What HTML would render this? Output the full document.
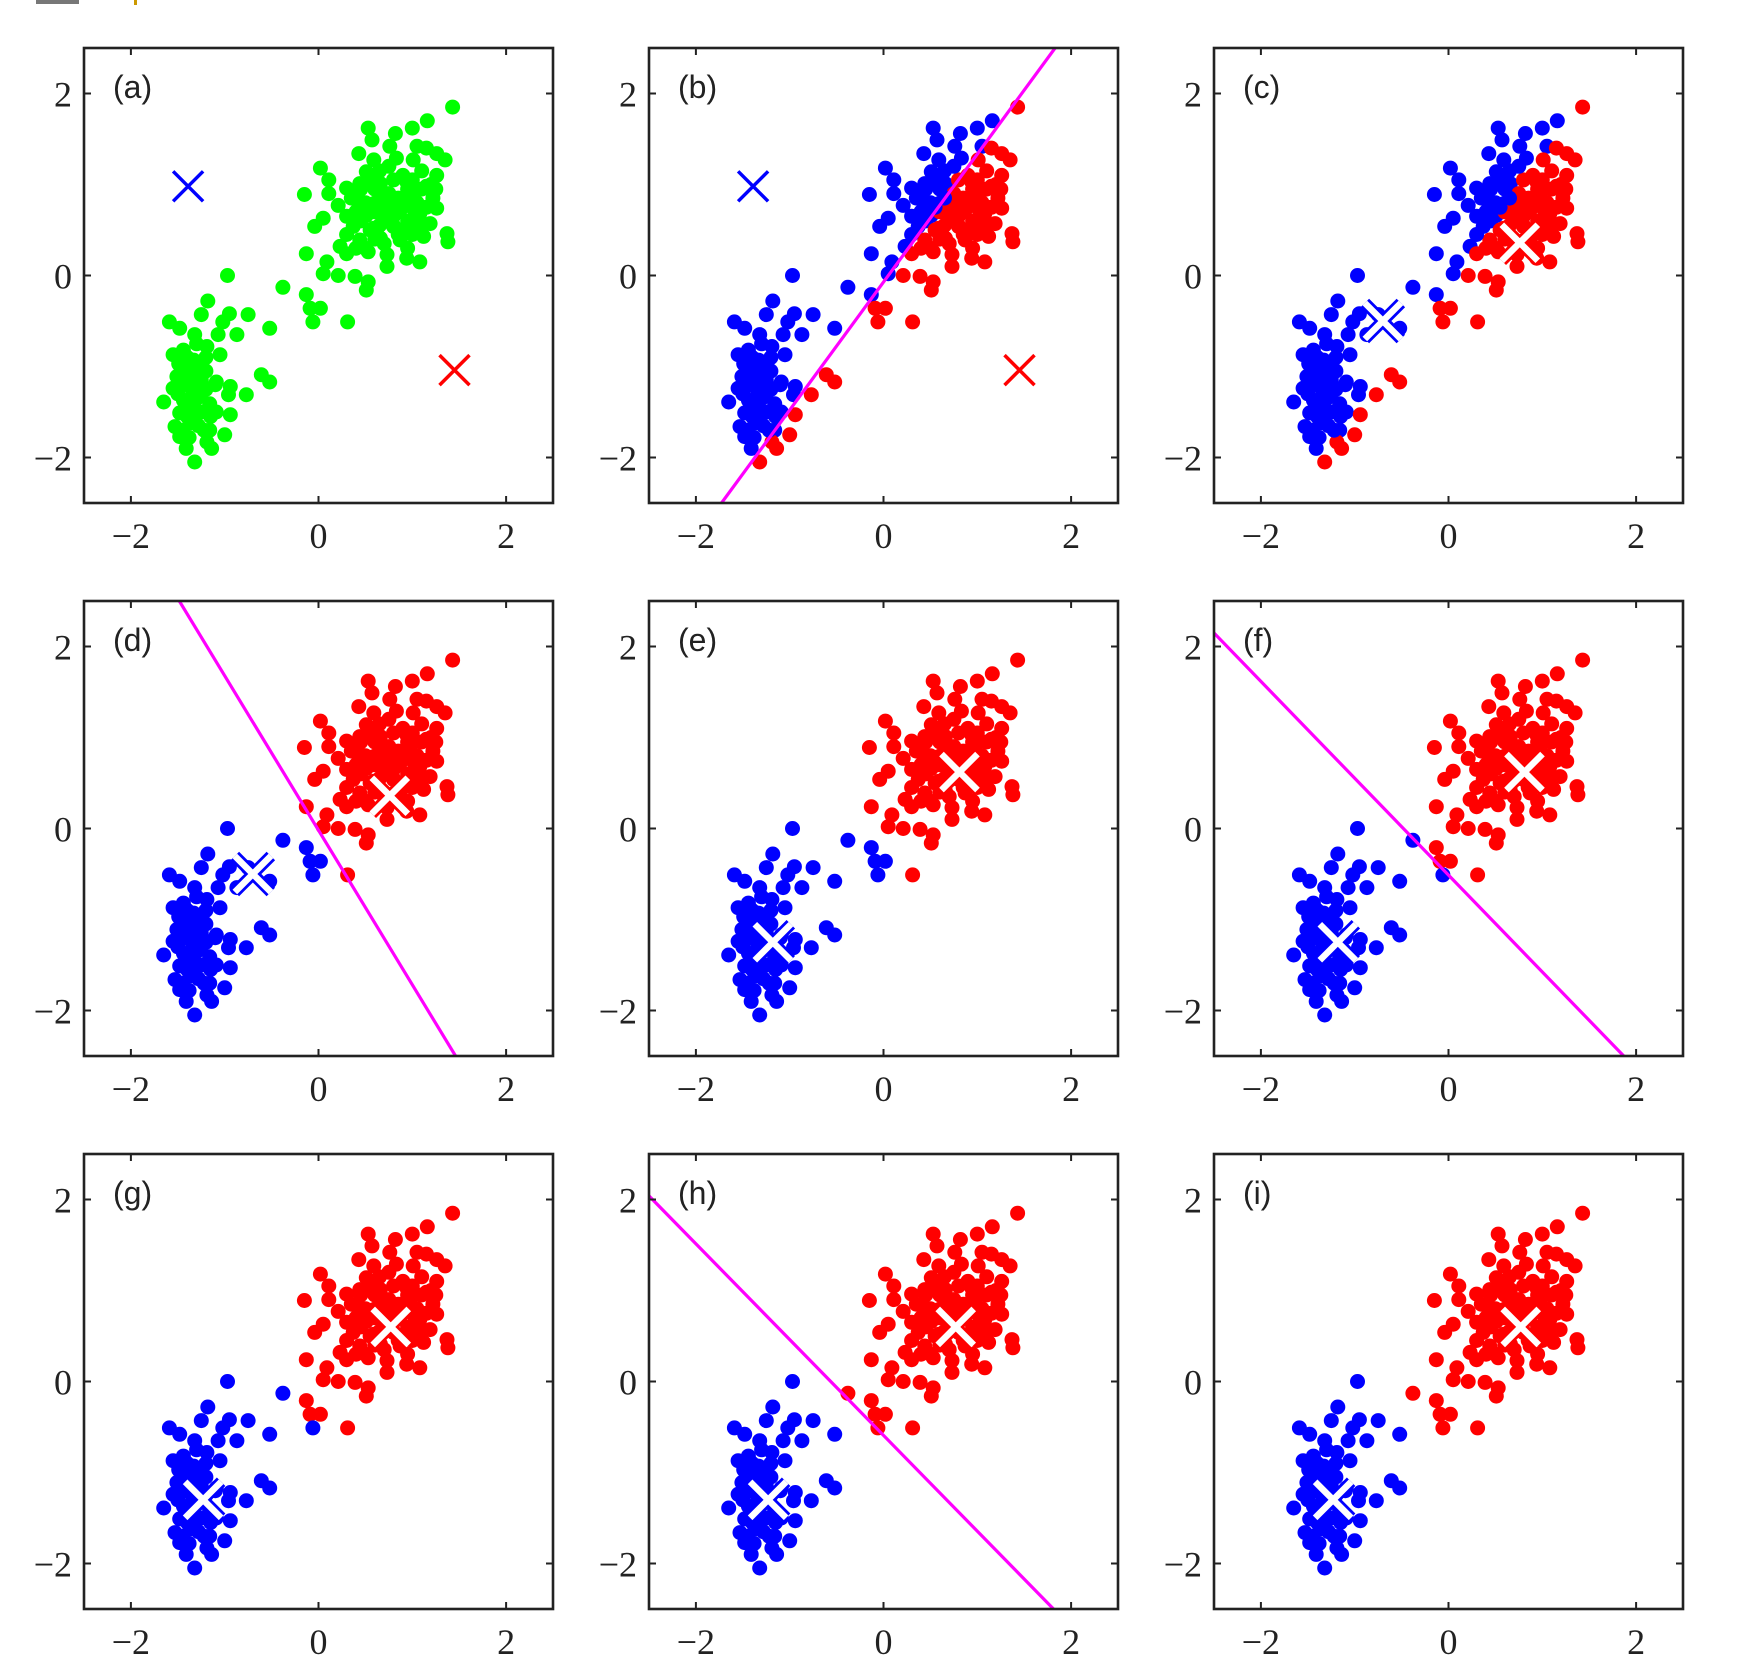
<!DOCTYPE html>
<html><head><meta charset="utf-8">
<style>
html,body{margin:0;padding:0;background:#fff;width:1752px;height:1676px;overflow:hidden;}
svg{display:block;}
</style></head>
<body>
<svg id="fig" width="1752" height="1676" viewBox="0 0 1752 1676" xmlns="http://www.w3.org/2000/svg">
<rect x="36" y="0" width="43" height="4" fill="#777"/>
<rect x="134" y="0" width="3" height="5" fill="#c90"/>
</svg>
<script>
// ---- data (data units) ----
const pointX = [-0.97,-0.38,-0.13,-0.09,0.02,-0.06,0.31,-1.18,-1.25,-0.95,-0.75,-1.59,-1.02,-0.52,-1.48,-1.32,-1.07,-0.87,-1.55,-1.44,-1.19,-1.05,-1.49,-1.33,-1.23,-1.41,-1.51,-1.30,-1.55,-1.37,-1.09,-0.94,-0.61,-0.52,-0.77,-1.65,-1.44,-1.26,-1.16,-0.96,-1.37,-1.48,-1.30,-1.09,-0.94,-1.53,-1.37,-1.16,-1.00,-1.48,-1.41,-1.14,-1.32,-1.19,-1.35,-1.25,-1.40,-1.28,-1.45,-1.20,
1.43,1.16,1.00,0.53,0.82,0.57,0.76,1.05,1.15,0.43,0.59,0.83,1.01,1.26,1.35,0.02,0.51,0.11,1.26,-0.15,0.11,0.30,0.44,0.66,0.94,1.15,0.21,0.41,0.59,0.76,0.98,1.22,1.26,0.05,0.30,0.51,0.69,0.87,1.08,-0.04,0.37,0.59,0.80,1.01,1.19,1.37,1.38,0.23,0.44,0.66,0.87,1.12,-0.13,0.09,0.30,0.53,0.73,0.94,1.08,0.05,0.21,0.39,0.53,0.51,0.73,0.6,0.7,0.8,0.9,1.0,0.75,0.5,0.6,0.95,1.05,0.85,0.7,0.4,1.1,0.9,0.65,
0.45,0.55,0.65,0.75,0.85,0.95,1.05,1.15,0.55,0.7,0.8,0.9,1.0,0.6,0.35,0.45,0.55,0.8,1.0,1.1,1.2,0.3,0.5,0.95,0.85,1.1,0.65,0.75,0.4,1.25,
-1.4,-1.35,-1.45,-1.3,-1.2,-1.4,-1.35,-1.45,-1.25,-1.2,-1.3,-1.15,-1.5,-1.38,-1.22,-1.1];
const pointY = [0.00,-0.13,-0.21,-0.36,-0.36,-0.51,-0.51,-0.28,-0.43,-0.42,-0.43,-0.51,-0.51,-0.58,-0.58,-0.65,-0.65,-0.65,-0.87,-0.82,-0.78,-0.87,-0.97,-0.93,-1.02,-1.08,-1.11,-1.13,-1.24,-1.20,-1.17,-1.22,-1.09,-1.17,-1.31,-1.39,-1.37,-1.33,-1.41,-1.31,-1.44,-1.51,-1.50,-1.50,-1.53,-1.66,-1.62,-1.70,-1.75,-1.77,-1.90,-1.90,-2.05,-1.83,-1.25,-1.15,-1.55,-1.65,-1.00,-0.90,
1.85,1.70,1.62,1.62,1.56,1.49,1.42,1.42,1.40,1.34,1.27,1.29,1.27,1.34,1.27,1.18,1.14,1.05,1.10,0.89,0.90,0.96,1.01,1.01,1.03,0.98,0.77,0.83,0.79,0.83,0.87,0.85,0.74,0.63,0.65,0.66,0.68,0.72,0.68,0.54,0.54,0.52,0.54,0.54,0.57,0.46,0.37,0.32,0.39,0.41,0.39,0.43,0.24,0.15,0.24,0.26,0.23,0.19,0.15,0.02,0.00,-0.01,-0.07,-0.16,0.10,0.7,0.6,0.65,0.8,0.75,0.9,0.8,0.95,0.6,0.8,0.45,0.35,0.7,0.95,1.1,1.15,
0.6,0.5,0.55,0.75,0.85,0.95,0.65,0.75,0.75,0.8,0.55,0.5,0.45,0.4,0.85,0.95,1.05,1.05,1.05,1.15,1.0,0.45,0.3,0.3,0.7,0.55,0.85,1.2,0.3,0.95,
-0.9,-1.05,-1.2,-1.35,-1.25,-1.4,-1.6,-1.7,-1.5,-1.05,-0.75,-1.55,-1.3,-1.78,-1.7,-1.2];
const panelLabels = ["(a)","(b)","(c)","(d)","(e)","(f)","(g)","(h)","(i)"];
// centroids: [blueX, blueY, redX, redY]
const centroidA = [-1.39, 0.98, 1.45, -1.04];
const centroidC = [-0.70, -0.50, 0.76, 0.36];
const centroidE = [-1.18, -1.25, 0.81, 0.62];
const centroidG = [-1.23, -1.30, 0.77, 0.60];
const tickValues = [-2, 0, 2];
const tickLabels = ["\u22122", "0", "2"];

const svg = document.getElementById('fig');
const NS = 'http://www.w3.org/2000/svg';
const colLeft = [84, 649, 1214], rowTop = [48, 601, 1154];
const W = 469, H = 455, XMIN = -2.5, XMAX = 2.5, YMIN = -2.5, YMAX = 2.5;

function mk(tag, attrs, parent){ const e = document.createElementNS(NS, tag); for (const k in attrs) e.setAttribute(k, attrs[k]); parent.appendChild(e); return e; }

// clip infinite line (point + direction) to axes box; returns [t0,t1]
function clipLine(px, py, ux, uy){
  let t0 = -1e9, t1 = 1e9;
  [[ux, px, XMIN, XMAX], [uy, py, YMIN, YMAX]].forEach(([u, p, lo, hi]) => {
    if (Math.abs(u) < 1e-12) return;
    let a = (lo - p) / u, b = (hi - p) / u;
    if (a > b) [a, b] = [b, a];
    t0 = Math.max(t0, a); t1 = Math.min(t1, b);
  });
  return [t0, t1];
}

const panels = [
  {assign:null, draw:centroidA, line:null, white:false},
  {assign:centroidA, draw:centroidA, line:centroidA, white:false},
  {assign:centroidA, draw:centroidC, line:null, white:true},
  {assign:centroidC, draw:centroidC, line:centroidC, white:true},
  {assign:centroidC, draw:centroidE, line:null, white:true},
  {assign:centroidE, draw:centroidE, line:centroidE, white:true},
  {assign:centroidE, draw:centroidG, line:null, white:true},
  {assign:centroidG, draw:centroidG, line:centroidG, white:true},
  {assign:centroidG, draw:centroidG, line:null, white:true}
];

panels.forEach((p, i) => {
  const L = colLeft[i % 3], T = rowTop[Math.floor(i / 3)];
  const sx = v => L + (v - XMIN) / (XMAX - XMIN) * W;
  const sy = v => T + (YMAX - v) / (YMAX - YMIN) * H;
  const g = mk('g', {}, svg);
  
  
  const clipId = 'clip' + i;
  const cp = mk('clipPath', {id: clipId}, g);
  mk('rect', {x: L, y: T, width: W, height: H}, cp);
  const pts = mk('g', {'clip-path': 'url(#' + clipId + ')'}, g);
  
  
  pointX.forEach((x, k) => {
    const y = pointY[k];
    let col = '#00ff00';
    if (p.assign) {
      const c = p.assign;
      const db = (x - c[0]) ** 2 + (y - c[1]) ** 2, dr = (x - c[2]) ** 2 + (y - c[3]) ** 2;
      col = db < dr ? '#0000ff' : '#ff0000';
    }
    const d = mk('circle', {cx: sx(x).toFixed(1), cy: sy(y).toFixed(1), r: 7.5, fill: col}, pts);
    
    
  });
  if (p.line) {
    const c = p.line;
    const mx = (c[0] + c[2]) / 2, my = (c[1] + c[3]) / 2;
    const ux = -(c[3] - c[1]), uy = c[2] - c[0];
    const [t0, t1] = clipLine(mx, my, ux, uy);
    const ln = mk('line', {x1: sx(mx + ux * t0), y1: sy(my + uy * t0), x2: sx(mx + ux * t1), y2: sy(my + uy * t1), stroke: '#ff00ff', 'stroke-width': 3.2}, pts);
    
    
  }
  const c = p.draw;
  [[c[0], c[1], '#0000ff'], [c[2], c[3], '#ff0000']].forEach(([x, y, col], j) => {
    const cx = sx(x), cy = sy(y);
    const cg = mk('g', {}, pts);
    
    
    const h = p.white ? 18 : 15;
    const path = `M${cx-h},${cy-h}L${cx+h},${cy+h}M${cx-h},${cy+h}L${cx+h},${cy-h}`;
    if (p.white) {
      mk('path', {d: path, stroke: col, 'stroke-width': 12, fill: 'none'}, cg);
      mk('path', {d: path, stroke: '#fff', 'stroke-width': 6.5, fill: 'none'}, cg);
    } else {
      mk('path', {d: path, stroke: col, 'stroke-width': 3.5, fill: 'none'}, cg);
    }
  });
  const fr = mk('rect', {x: L, y: T, width: W, height: H, fill: 'none', stroke: '#222', 'stroke-width': 2.6}, g);
  
  
  tickValues.forEach((v, k) => {
    const x = sx(v), y = sy(v);
    mk('line', {x1: x, y1: T + H, x2: x, y2: T + H - 7, stroke: '#222', 'stroke-width': 2}, g);
    mk('line', {x1: x, y1: T, x2: x, y2: T + 7, stroke: '#222', 'stroke-width': 2}, g);
    mk('line', {x1: L, y1: y, x2: L + 7, y2: y, stroke: '#222', 'stroke-width': 2}, g);
    mk('line', {x1: L + W, y1: y, x2: L + W - 7, y2: y, stroke: '#222', 'stroke-width': 2}, g);
    const xt = mk('text', {x: x, y: T + H + 45, 'text-anchor': 'middle', 'font-family': '"Liberation Serif", serif', 'font-size': 36, fill: '#222'}, g);
    xt.textContent = tickLabels[k];
    
    
    const yt = mk('text', {x: L - 12, y: y + 13, 'text-anchor': 'end', 'font-family': '"Liberation Serif", serif', 'font-size': 36, fill: '#222'}, g);
    yt.textContent = tickLabels[k];
    
    
  });
  const lab = mk('text', {x: L + 29, y: T + 50, 'font-family': '"Liberation Sans", sans-serif', 'font-size': 32, fill: '#222'}, g);
  lab.textContent = panelLabels[i];
  
  
});
</script>
</body></html>
